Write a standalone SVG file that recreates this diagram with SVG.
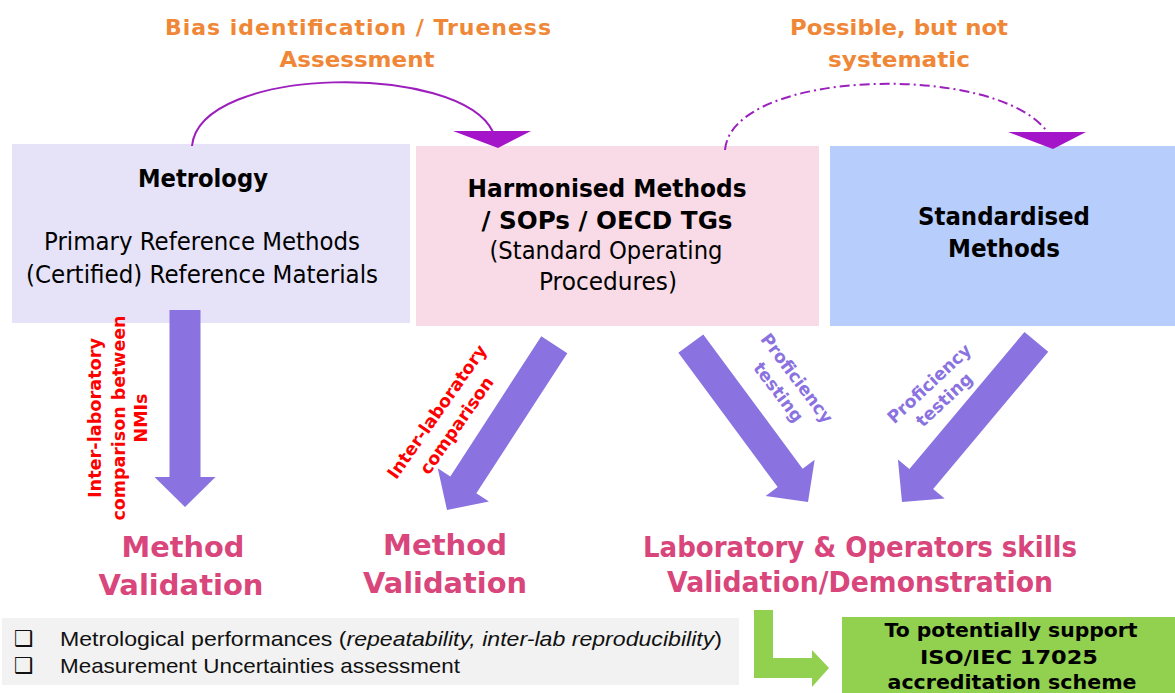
<svg xmlns="http://www.w3.org/2000/svg" width="1175" height="693" viewBox="0 0 1175 693">
<style>
  text { font-family: "DejaVu Sans", Verdana, sans-serif; }
  .b { font-weight: bold; }
  .box-t { font-size: 24px; fill: #000; text-anchor: middle; }
  .orange { font-size: 22px; font-weight: bold; fill: #ef8737; text-anchor: middle; }
  .pink { font-size: 29px; font-weight: bold; fill: #d8467b; text-anchor: middle; }
  .red { font-size: 17.5px; font-weight: bold; fill: #ff0000; text-anchor: middle; }
  .pt { font-size: 17.5px; font-weight: bold; fill: #8a72e0; text-anchor: middle; }
  .big { fill: #8a72e0; }
  .arc { fill: none; stroke: #9c1fbd; stroke-width: 2; }
  .list { font-family: "Liberation Sans", Arial, sans-serif; font-size: 21px; fill: #111; }
  .chk { font-size: 22px; fill: #111; }
  .green-t { font-size: 20px; font-weight: bold; fill: #000; text-anchor: middle; }
</style>
<defs>
  <marker id="tri" markerUnits="userSpaceOnUse" viewBox="-45 -5 90 25" refX="0" refY="0" markerWidth="90" markerHeight="25" orient="0" overflow="visible">
    <path d="M-40,-1 L38,-1 L5,16 Z" fill="#a414c8"/>
  </marker>
</defs>
<rect width="1175" height="693" fill="#ffffff"/>

<g id="metrology">
  <rect x="12" y="144" width="398" height="179" fill="#e6e3f8"/>
  <text class="box-t b" x="203" y="187" textLength="130" lengthAdjust="spacingAndGlyphs">Metrology</text>
  <text class="box-t" x="202" y="250" textLength="316" lengthAdjust="spacingAndGlyphs">Primary Reference Methods</text>
  <text class="box-t" x="202" y="283" textLength="352" lengthAdjust="spacingAndGlyphs">(Certified) Reference Materials</text>
</g>

<g id="harmonised">
  <rect x="416" y="146" width="403" height="180" fill="#f8dbe6"/>
  <text class="box-t b" x="607" y="197" textLength="279" lengthAdjust="spacingAndGlyphs">Harmonised Methods</text>
  <text class="box-t b" x="607" y="229" textLength="251" lengthAdjust="spacingAndGlyphs">/ SOPs / OECD TGs</text>
  <text class="box-t" x="606" y="259" textLength="233" lengthAdjust="spacingAndGlyphs">(Standard Operating</text>
  <text class="box-t" x="608" y="290" textLength="138" lengthAdjust="spacingAndGlyphs">Procedures)</text>
</g>

<g id="standardised">
  <rect x="830" y="146" width="345" height="180" fill="#b7cdfb"/>
  <text class="box-t b" x="1004" y="225" textLength="172" lengthAdjust="spacingAndGlyphs">Standardised</text>
  <text class="box-t b" x="1004" y="257" textLength="112" lengthAdjust="spacingAndGlyphs">Methods</text>
</g>

<g id="label-bias">
  <text class="orange" x="358" y="35" textLength="386" lengthAdjust="spacing">Bias identification / Trueness</text>
  <text class="orange" x="357" y="67" textLength="155" lengthAdjust="spacingAndGlyphs">Assessment</text>
</g>
<g id="label-possible">
  <text class="orange" x="899" y="35" textLength="218" lengthAdjust="spacingAndGlyphs">Possible, but not</text>
  <text class="orange" x="899" y="67" textLength="142" lengthAdjust="spacingAndGlyphs">systematic</text>
</g>

<g id="connectors">
  <path class="arc" d="M192,146 C200,65 460,62 493,132" marker-end="url(#tri)"/>
  <path class="arc" d="M725,150 C732,68 1000,62 1048,133" stroke-dasharray="10 4 2 4" marker-end="url(#tri)"/>

  <polygon class="big" transform="translate(185,507)" points="-15.5,-197 15.5,-197 15.5,-30 30.5,-30 0,0 -30.5,-30 -15.5,-30"/>
  <polygon class="big" transform="translate(447,510) rotate(33)" points="-15.5,-197 15.5,-197 15.5,-30 30.5,-30 0,0 -30.5,-30 -15.5,-30"/>
  <polygon class="big" transform="translate(808,502) rotate(-36.5)" points="-15.5,-197 15.5,-197 15.5,-30 30.5,-30 0,0 -30.5,-30 -15.5,-30"/>
  <polygon class="big" transform="translate(902,502) rotate(40)" points="-15.5,-209 15.5,-209 15.5,-30 30.5,-30 0,0 -30.5,-30 -15.5,-30"/>

  <g transform="translate(117,418) rotate(-90)">
    <text class="red" x="0" y="-16" textLength="160" lengthAdjust="spacingAndGlyphs">Inter-laboratory</text>
    <text class="red" x="0" y="8" textLength="205" lengthAdjust="spacingAndGlyphs">comparison between</text>
    <text class="red" x="0" y="30">NMIs</text>
  </g>
  <g transform="translate(446,418) rotate(-55)">
    <text class="red" x="0" y="-5" textLength="159" lengthAdjust="spacingAndGlyphs">Inter-laboratory</text>
    <text class="red" x="0" y="19">comparison</text>
  </g>
  <g transform="translate(788,385) rotate(53)">
    <text class="pt" x="0" y="-5" textLength="107" lengthAdjust="spacingAndGlyphs">Proficiency</text>
    <text class="pt" x="0" y="18">testing</text>
  </g>
  <g transform="translate(936,391) rotate(-43)">
    <text class="pt" x="0" y="-4" textLength="107" lengthAdjust="spacingAndGlyphs">Proficiency</text>
    <text class="pt" x="0" y="18">testing</text>
  </g>

  <polygon fill="#92d050" points="754,610 773,610 773,658 812,658 812,650 829,668 812,687 812,678 754,678"/>
</g>

<g id="validation-1">
  <text class="pink" x="183" y="557" textLength="123" lengthAdjust="spacingAndGlyphs">Method</text>
  <text class="pink" x="181" y="595" textLength="165" lengthAdjust="spacingAndGlyphs">Validation</text>
</g>
<g id="validation-2">
  <text class="pink" x="445" y="555" textLength="124" lengthAdjust="spacingAndGlyphs">Method</text>
  <text class="pink" x="445" y="593" textLength="164" lengthAdjust="spacingAndGlyphs">Validation</text>
</g>
<g id="lab-skills">
  <text class="pink" x="860" y="557" textLength="434" lengthAdjust="spacingAndGlyphs">Laboratory &amp; Operators skills</text>
  <text class="pink" x="860" y="592" textLength="386" lengthAdjust="spacingAndGlyphs">Validation/Demonstration</text>
</g>

<g id="performance-list">
  <rect x="2" y="618" width="737" height="67" fill="#f2f2f2"/>
  <text class="chk" x="14" y="646">❑</text>
  <text class="list" x="60" y="646" textLength="662" lengthAdjust="spacingAndGlyphs">Metrological performances (<tspan font-style="italic">repeatability, inter-lab reproducibility</tspan>)</text>
  <text class="chk" x="14" y="673">❑</text>
  <text class="list" x="60" y="673" textLength="400" lengthAdjust="spacingAndGlyphs">Measurement Uncertainties assessment</text>
</g>

<g id="iso-box">
  <rect x="842" y="617" width="333" height="76" fill="#92d050"/>
  <text class="green-t" x="1011" y="637" textLength="253" lengthAdjust="spacingAndGlyphs">To potentially support</text>
  <text class="green-t" x="1009" y="664" textLength="178" lengthAdjust="spacingAndGlyphs">ISO/IEC 17025</text>
  <text class="green-t" x="1012" y="689" textLength="249" lengthAdjust="spacingAndGlyphs">accreditation scheme</text>
</g>
</svg>
